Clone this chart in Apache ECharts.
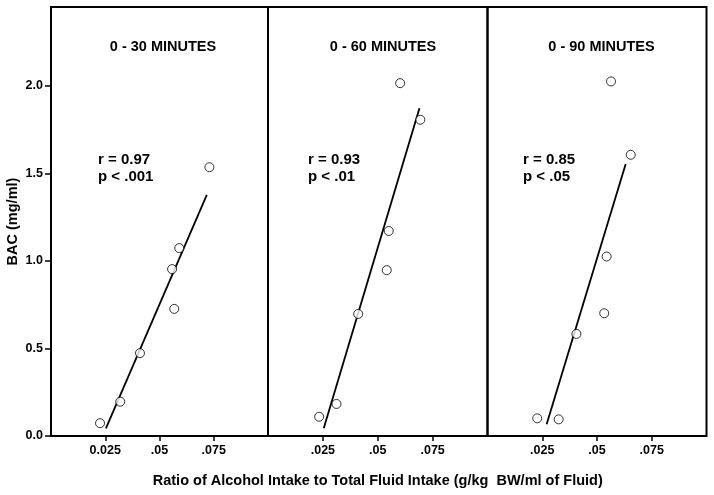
<!DOCTYPE html>
<html>
<head>
<meta charset="utf-8">
<script src="https://cdn.jsdelivr.net/npm/echarts@6/dist/echarts.min.js"></script>
<style>html,body{margin:0;padding:0;background:#fff;}#c{width:714px;height:495px;}</style>
</head>
<body>
<div id="c"></div>
<script>
// ---- data ----
var panelTitles = ['0 - 30 MINUTES', '0 - 60 MINUTES', '0 - 90 MINUTES'];
var statR = ['r = 0.97', 'r = 0.93', 'r = 0.85'];
var statP = ['p < .001', 'p < .01', 'p < .05'];
var yTicks = [0, 0.5, 1.0, 1.5, 2.0];
var xTickLabelsFirst = ['0.025', '.05', '.075'];
var xTickLabelsOther = ['.025', '.05', '.075'];
var xTickValues = [0.025, 0.05, 0.075];

var pts30 = [[0.0226, 0.073], [0.0319, 0.196], [0.041, 0.473], [0.0558, 0.953], [0.0568, 0.726], [0.0591, 1.073], [0.073, 1.535]];
var pts60 = [[0.0233, 0.11], [0.0312, 0.183], [0.0411, 0.697], [0.0541, 0.947], [0.055, 1.171], [0.0602, 2.015], [0.0694, 1.806]];
var pts90 = [[0.0227, 0.101], [0.0325, 0.095], [0.0406, 0.583], [0.0533, 0.701], [0.0544, 1.025], [0.0564, 2.025], [0.0654, 1.606]];

var fit30 = [[0.0253, 0.044], [0.0718, 1.377]];
var fit60 = [[0.0254, 0.044], [0.069, 1.872]];
var fit90 = [[0.027, 0.067], [0.0631, 1.553]];

var xAxisTitle = 'Ratio of Alcohol Intake to Total Fluid Intake (g/kg  BW/ml of Fluid)';
var yAxisTitle = 'BAC (mg/ml)';

// ---- layout ----
var FONT = 'Liberation Sans, Arial, sans-serif';
var gridLefts = [51, 268, 487.5];
var gridWidths = [217, 219.5, 219];
var gridTop = 7, gridHeight = 429;
var allPts = [pts30, pts60, pts90];
var allFits = [fit30, fit60, fit90];

var grids = [], xAxes = [], yAxes = [], series = [], titles = [];
for (var i = 0; i < 3; i++) {
  grids.push({left: gridLefts[i], top: gridTop, width: gridWidths[i], height: gridHeight,
    containLabel: false, outerBoundsMode: 'none',
    show: true, borderColor: '#000', borderWidth: 2, backgroundColor: 'transparent'});
  (function (idx) {
    var labels = idx === 0 ? xTickLabelsFirst : xTickLabelsOther;
    xAxes.push({
      type: 'value', gridIndex: idx, min: 0, max: 0.1, interval: 0.025,
      axisLine: {show: false},
      axisTick: {show: true, length: 5, lineStyle: {color: '#000', width: 1.5},
        customValues: xTickValues},
      axisLabel: {color: '#000', fontFamily: FONT, fontWeight: 'bold', fontSize: 12.5, margin: 8,
        customValues: xTickValues,
        formatter: function (v) {
          for (var k = 0; k < xTickValues.length; k++) {
            if (Math.abs(v - xTickValues[k]) < 1e-9) return labels[k];
          }
          return '';
        }},
      splitLine: {show: false},
      name: idx === 1 ? xAxisTitle : '',
      nameLocation: 'middle', nameGap: 37,
      nameTextStyle: {color: '#000', fontFamily: FONT, fontWeight: 'bold', fontSize: 14.5}
    });
    yAxes.push({
      type: 'value', gridIndex: idx, min: 0, max: 2.45,
      axisLine: {show: false},
      axisTick: {show: idx === 0, length: 6, lineStyle: {color: '#000', width: 1.5}, customValues: yTicks},
      axisLabel: {show: idx === 0, color: '#000', fontFamily: FONT, fontWeight: 'bold', fontSize: 12.5, margin: 8,
        customValues: yTicks,
        formatter: function (v) { return v.toFixed(1); }},
      splitLine: {show: false},
      name: idx === 0 ? yAxisTitle : '',
      nameLocation: 'middle', nameGap: 31, nameRotate: 90,
      nameTextStyle: {color: '#000', fontFamily: FONT, fontWeight: 'bold', fontSize: 14.5}
    });
  })(i);
  series.push({
    type: 'line', xAxisIndex: i, yAxisIndex: i, data: allFits[i],
    symbol: 'none', lineStyle: {color: '#000', width: 1.8}, silent: true, z: 2
  });
  series.push({
    type: 'scatter', xAxisIndex: i, yAxisIndex: i, data: allPts[i],
    symbol: 'circle', symbolSize: 9,
    itemStyle: {color: '#fff', borderColor: '#000', borderWidth: 1}, z: 3
  });
}

var titleCenters = [163, 383, 601.5];
var statLefts = [98, 308, 523];
for (var j = 0; j < 3; j++) {
  titles.push({text: panelTitles[j], left: titleCenters[j], top: 39, textAlign: 'center', padding: 0,
    textStyle: {color: '#000', fontFamily: FONT, fontWeight: 'bold', fontSize: 14.5}});
  titles.push({text: statR[j] + '\n' + statP[j], left: statLefts[j], top: 151, padding: 0,
    textStyle: {color: '#000', fontFamily: FONT, fontWeight: 'bold', fontSize: 15, lineHeight: 17}});
}

var chart = echarts.init(document.getElementById('c'), null, {renderer: 'canvas'});
chart.setOption({
  animation: false,
  backgroundColor: '#fff',
  title: titles,
  grid: grids,
  xAxis: xAxes,
  yAxis: yAxes,
  series: series
});
</script>
</body>
</html>
